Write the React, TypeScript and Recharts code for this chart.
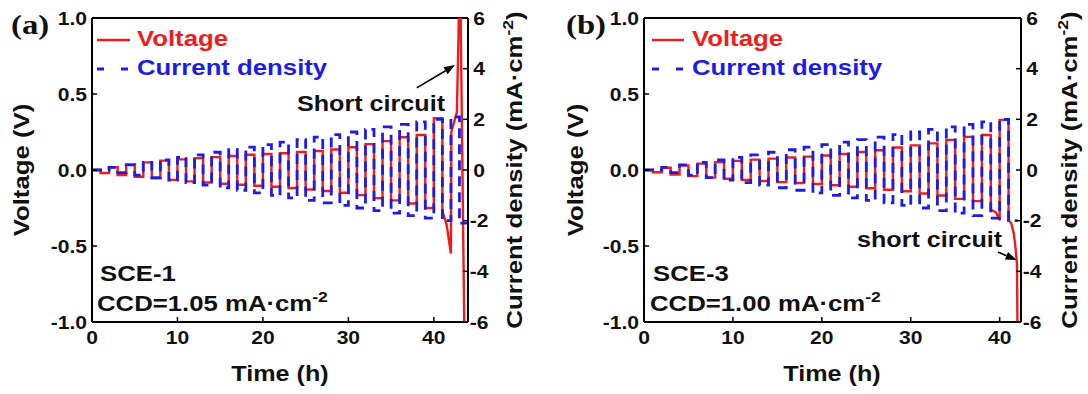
import React from 'react';
import { LineChart, Line, XAxis, YAxis, ReferenceLine } from 'recharts';

// ---------------- data ----------------
// step-wise increasing current density, one cycle = +j for 1 h then -j for 1 h
const HALF_PERIOD_H = 1;

// Panel (a) SCE-1
const currentA = [0, 0.1, 0.2, 0.3, 0.4, 0.5, 0.6, 0.7, 0.8, 0.9, 1.0, 1.1, 1.2, 1.3, 1.4, 1.5, 1.6, 1.7, 1.8, 1.9, 2.0, 2.1];
const voltPosA = [0.0, 0.018, 0.035, 0.05, 0.062, 0.07, 0.078, 0.085, 0.092, 0.1, 0.105, 0.11, 0.118, 0.125, 0.135, 0.15, 0.17, 0.19, 0.215, 0.23, 0.34];
const voltNegA = [-0.02, -0.033, -0.044, -0.055, -0.065, -0.075, -0.082, -0.09, -0.097, -0.104, -0.11, -0.118, -0.128, -0.138, -0.15, -0.165, -0.185, -0.2, -0.22, -0.25];
const tailTimeA = [41.0, 41.5, 42.0, 42.05, 42.7, 43.0, 43.1, 43.6];
const tailVoltA = [-0.27, -0.36, -0.55, 0.25, 0.38, 1.2, 1.2, -1.2];

// Panel (b) SCE-3
const currentB = [0, 0.1, 0.2, 0.3, 0.4, 0.5, 0.6, 0.7, 0.8, 0.9, 1.0, 1.1, 1.2, 1.3, 1.4, 1.5, 1.6, 1.7, 1.8, 1.9, 2.0];
const voltPosB = [0.0, 0.015, 0.03, 0.042, 0.052, 0.06, 0.068, 0.075, 0.082, 0.088, 0.095, 0.105, 0.118, 0.13, 0.148, 0.162, 0.175, 0.198, 0.218, 0.23, 0.33];
const voltNegB = [-0.015, -0.03, -0.04, -0.05, -0.058, -0.065, -0.072, -0.08, -0.086, -0.092, -0.1, -0.11, -0.12, -0.13, -0.14, -0.155, -0.168, -0.19, -0.205, -0.26];
const dipTimeB = [39.0, 39.6, 40.0];
const dipVoltB = [-0.26, -0.28, -0.33];
const tailTimeB = [41.0, 41.3, 41.6, 41.8, 41.95, 42.02];
const tailVoltB = [-0.33, -0.35, -0.42, -0.52, -0.62, -1.2];

const xTicksA = [0, 10, 20, 30, 40];
const xTicksB = [0, 10, 20, 30, 40];
const vTicks = [-1, -0.5, 0, 0.5, 1];
const jTicks = [-6, -4, -2, 0, 2, 4, 6];

// arrows (data coordinates: time, voltage)
const arrowA = [{ x: 38.0, y: 0.54 }, { x: 42.48, y: 0.69 }];
const arrowB = [{ x: 39.8, y: -0.54 }, { x: 41.91, y: -0.592 }];

// ---------------- helpers ----------------
type P = { t: number; y: number };
function buildSquare(pos: number[], neg: number[]): P[] {
  const pts: P[] = [];
  pos.forEach((p, i) => {
    const t0 = 2 * HALF_PERIOD_H * i;
    pts.push({ t: t0, y: p }, { t: t0 + HALF_PERIOD_H, y: p });
    if (i < neg.length) {
      pts.push({ t: t0 + HALF_PERIOD_H, y: neg[i] }, { t: t0 + 2 * HALF_PERIOD_H, y: neg[i] });
    }
  });
  return pts;
}
function withPoints(base: P[], times: number[], vals: number[]): P[] {
  return [...base, ...times.map((t, i) => ({ t, y: vals[i] }))];
}

const voltA = withPoints(buildSquare(voltPosA, voltNegA), tailTimeA, tailVoltA);
const curA = buildSquare(currentA, currentA.map((v) => -v));

const baseVB = buildSquare(voltPosB, voltNegB);
// replace the flat negative half of cycle 20 by its measured dip
const voltBpre = baseVB.filter((p) => !(p.t >= 39 && p.t <= 40 && p.y < 0));
const idxDip = voltBpre.findIndex((p) => p.t > 39);
const voltB0 = [...voltBpre.slice(0, idxDip), ...dipTimeB.map((t, i) => ({ t, y: dipVoltB[i] })), ...voltBpre.slice(idxDip)];
const voltB = withPoints(voltB0, tailTimeB, tailVoltB);
const curB = buildSquare(currentB, currentB.map((v) => -v));

const FONT = '"Liberation Sans", Arial, Helvetica, sans-serif';
const SERIF = '"Liberation Serif", "Times New Roman", serif';
const SX = 1.17;
const RED = '#f01c1c';
const BLUE = '#1c1ce6';
const AX = 2;
const TICK_FS = 18;

const LeftTick = (props: any) => {
  const { x, y, payload } = props;
  return (
    <g>
      <line x1={x} y1={y} x2={x + 5} y2={y} stroke="#000" strokeWidth={1.5} />
      <text transform={`translate(${x - 5},${y + 6.5}) scale(${SX},1)`} textAnchor="end" fontFamily={FONT} fontWeight="bold" fontSize={TICK_FS} fill="#111">
        {Number(payload.value).toFixed(1)}
      </text>
    </g>
  );
};
const RightTick = (props: any) => {
  const { x, y, payload } = props;
  return (
    <g>
      <line x1={x} y1={y} x2={x - 5} y2={y} stroke="#000" strokeWidth={1.5} />
      <text transform={`translate(${x + 11},${y + 6.5}) scale(${SX},1)`} textAnchor="middle" fontFamily={FONT} fontWeight="bold" fontSize={TICK_FS} fill="#111">
        {String(payload.value)}
      </text>
    </g>
  );
};
const BottomTick = (props: any) => {
  const { x, y, payload } = props;
  return (
    <g>
      <line x1={x} y1={y} x2={x} y2={y - 5} stroke="#000" strokeWidth={1.5} />
      <text transform={`translate(${x},${y + 22}) scale(${SX},1)`} textAnchor="middle" fontFamily={FONT} fontWeight="bold" fontSize={TICK_FS} fill="#111">
        {String(payload.value)}
      </text>
    </g>
  );
};
const Arrow = (props: any) => {
  const { x1, y1, x2, y2 } = props;
  const ang = Math.atan2(y2 - y1, x2 - x1);
  const L = 11;
  const W = 4;
  const bx = x2 - L * Math.cos(ang);
  const by = y2 - L * Math.sin(ang);
  const px = -Math.sin(ang) * W;
  const py = Math.cos(ang) * W;
  return (
    <g>
      <line x1={x1} y1={y1} x2={bx} y2={by} stroke="#000" strokeWidth={1.6} />
      <polygon points={`${x2},${y2} ${bx + px},${by + py} ${bx - px},${by - py}`} fill="#000" />
    </g>
  );
};

type PanelProps = {
  volt: P[];
  cur: P[];
  xMax: number;
  xTicks: number[];
  leftW: number;
  rightW: number;
  arrow: { x: number; y: number }[];
};

const Panel = ({ volt, cur, xMax, xTicks, leftW, rightW, arrow }: PanelProps) => (
  <LineChart width={544} height={394} margin={{ top: 18, right: 0, bottom: 0, left: 0 }}>
    <XAxis
      dataKey="t"
      type="number"
      domain={[0, xMax]}
      ticks={xTicks}
      allowDataOverflow
      height={72}
      tickSize={0}
      tickMargin={0}
      tickLine={false}
      axisLine={{ stroke: '#000', strokeWidth: AX }}
      tick={(p: any) => <BottomTick {...p} />}
      interval={0}
    />
    <YAxis
      yAxisId="v"
      orientation="left"
      type="number"
      domain={[-1, 1]}
      ticks={vTicks}
      allowDataOverflow
      width={leftW}
      tickSize={0}
      tickMargin={0}
      tickLine={false}
      axisLine={{ stroke: '#000', strokeWidth: AX }}
      tick={(p: any) => <LeftTick {...p} />}
      interval={0}
    />
    <YAxis
      yAxisId="j"
      orientation="right"
      type="number"
      domain={[-6, 6]}
      ticks={jTicks}
      allowDataOverflow
      width={rightW}
      tickSize={0}
      tickMargin={0}
      tickLine={false}
      axisLine={{ stroke: '#000', strokeWidth: AX }}
      tick={(p: any) => <RightTick {...p} />}
      interval={0}
    />
    <ReferenceLine yAxisId="v" y={1} stroke="#000" strokeWidth={AX} />
    <Line yAxisId="v" data={volt} dataKey="y" type="linear" stroke={RED} strokeWidth={2.4} dot={false} isAnimationActive={false} />
    <Line yAxisId="j" data={cur} dataKey="y" type="linear" stroke={BLUE} strokeWidth={2.8} strokeDasharray="10 6" dot={false} isAnimationActive={false} />
    <ReferenceLine yAxisId="v" segment={arrow} shape={(p: any) => <Arrow {...p} />} ifOverflow="visible" />
  </LineChart>
);

const T = ({ x, y, size, color = '#111', anchor = 'start', rotate = false, family = FONT, children }: any) => (
  <text
    transform={`translate(${x},${y})${rotate ? ' rotate(-90)' : ''} scale(${SX},1)`}
    textAnchor={anchor}
    fontFamily={family}
    fontWeight="bold"
    fontSize={size}
    fill={color}
  >
    {children}
  </text>
);

export default function App() {
  return (
    <div style={{ position: 'absolute', left: 0, top: 0, width: 1088, height: 394, background: '#fff', overflow: 'hidden' }}>
      <div style={{ position: 'absolute', left: 0, top: 0 }}>
        <Panel volt={voltA} cur={curA} xMax={44} xTicks={xTicksA} leftW={92} rightW={76} arrow={arrowA} />
      </div>
      <div style={{ position: 'absolute', left: 544, top: 0 }}>
        <Panel volt={voltB} cur={curB} xMax={42.4} xTicks={xTicksB} leftW={100} rightW={67} arrow={arrowB} />
      </div>
      <svg width={1088} height={394} style={{ position: 'absolute', left: 0, top: 0, pointerEvents: 'none' }}>
        {/* panel a */}
        <T x={11} y={34} size={28} family={SERIF}>(a)</T>
        <T x={29} y={170} size={22} anchor="middle" rotate>Voltage (V)</T>
        <T x={522} y={170} size={22} anchor="middle" rotate>
          Current density (mA·cm<tspan dy={-9} fontSize={15}>-2</tspan><tspan dy={9}>)</tspan>
        </T>
        <T x={280} y={381} size={21.5} anchor="middle">Time (h)</T>
        <line x1={97} y1={40} x2={130} y2={40} stroke={RED} strokeWidth={2.4} />
        <T x={137} y={46} size={22} color={RED}>Voltage</T>
        <line x1={97} y1={69} x2={130} y2={69} stroke={BLUE} strokeWidth={2.8} strokeDasharray="7 17" />
        <T x={137} y={75} size={22} color={BLUE}>Current density</T>
        <T x={297} y={111} size={21.5}>Short circuit</T>
        <T x={100} y={281} size={22}>SCE-1</T>
        <T x={97} y={311} size={22}>
          CCD=1.05 mA·cm<tspan dy={-9} fontSize={15}>-2</tspan>
        </T>

        {/* panel b */}
        <T x={566} y={34} size={28} family={SERIF}>(b)</T>
        <T x={583} y={170} size={22} anchor="middle" rotate>Voltage (V)</T>
        <T x={1077} y={170} size={22} anchor="middle" rotate>
          Current density (mA·cm<tspan dy={-9} fontSize={15}>-2</tspan><tspan dy={9}>)</tspan>
        </T>
        <T x={832} y={381} size={21.5} anchor="middle">Time (h)</T>
        <line x1={652} y1={40} x2={684} y2={40} stroke={RED} strokeWidth={2.4} />
        <T x={692} y={46} size={22} color={RED}>Voltage</T>
        <line x1={652} y1={69} x2={684} y2={69} stroke={BLUE} strokeWidth={2.8} strokeDasharray="7 17" />
        <T x={692} y={75} size={22} color={BLUE}>Current density</T>
        <T x={857} y={247} size={21.5}>short circuit</T>
        <T x={653} y={281} size={22}>SCE-3</T>
        <T x={650} y={311} size={22}>
          CCD=1.00 mA·cm<tspan dy={-9} fontSize={15}>-2</tspan>
        </T>
      </svg>
    </div>
  );
}
